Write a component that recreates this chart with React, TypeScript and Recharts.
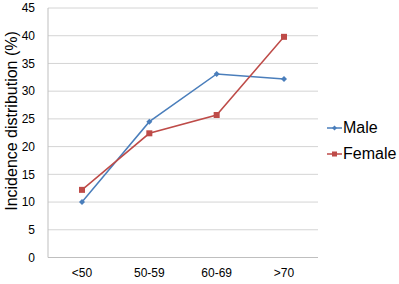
import React from 'react';
import { LineChart, Line, XAxis, YAxis, CartesianGrid } from 'recharts';

const categories = ['<50', '50-59', '60-69', '>70'];
const maleValues = [10, 24.5, 33.1, 32.2];
const femaleValues = [12.2, 22.4, 25.7, 39.8];
const yTicks = [0, 5, 10, 15, 20, 25, 30, 35, 40, 45];

const data = categories.map((c, i) => ({ cat: c, Male: maleValues[i], Female: femaleValues[i] }));

const MALE = '#4a7ebb';
const FEMALE = '#be4b48';
const FONT = 'Arial, "Liberation Sans", sans-serif';

const Diamond = (props: any) => {
  const { cx, cy, fill } = props;
  if (cx == null || cy == null) return null;
  return <path d={`M${cx},${cy - 3} L${cx + 3},${cy} L${cx},${cy + 3} L${cx - 3},${cy} Z`} fill={fill} />;
};
const Square = (props: any) => {
  const { cx, cy, fill } = props;
  if (cx == null || cy == null) return null;
  return <rect x={cx - 3} y={cy - 3} width={6} height={6} fill={fill} />;
};

const legendItems = [
  { name: 'Male', color: MALE, marker: 'diamond' },
  { name: 'Female', color: FEMALE, marker: 'square' },
];

const LegendBox = () => (
  <div style={{ position: 'absolute', left: 327, top: 115, fontFamily: FONT, fontSize: 16, color: '#000', lineHeight: '26px' }}>
    {legendItems.map((it) => (
      <div key={it.name} style={{ display: 'flex', alignItems: 'center', height: 26 }}>
        <svg width={15} height={10} style={{ marginRight: 1 }}>
          <line x1={0} y1={5} x2={15} y2={5} stroke={it.color} strokeWidth={1.5} />
          {it.marker === 'diamond' ? (
            <path d="M7.5,2.5 L10,5 L7.5,7.5 L5,5 Z" fill={it.color} />
          ) : (
            <rect x={5} y={2.5} width={5} height={5} fill={it.color} />
          )}
        </svg>
        <span>{it.name}</span>
      </div>
    ))}
  </div>
);

export default function App() {
  return (
    <div style={{ position: 'absolute', left: 0, top: 0, width: 399, height: 284, background: '#fff' }}>
      <LineChart width={399} height={284} data={data} margin={{ top: 8, right: 81, left: 0, bottom: 0 }}>
        <CartesianGrid horizontal vertical={false} stroke="#d4d4d4" strokeWidth={1} />
        <XAxis
          dataKey="cat"
          height={26.5}
          padding={{ left: 34, right: 34 }}
          tickLine={false}
          tickSize={0}
          tickMargin={11}
          axisLine={{ stroke: '#bfbfbf' }}
          tick={{ fill: '#000', fontSize: 12, fontFamily: FONT }}
          interval={0}
        />
        <YAxis
          width={48}
          domain={[0, 45]}
          ticks={yTicks}
          interval={0}
          tickLine={false}
          tickSize={0}
          tickMargin={13}
          axisLine={{ stroke: '#bfbfbf' }}
          tick={{ fill: '#000', fontSize: 12, fontFamily: FONT }}
        />
        <Line
          type="linear"
          dataKey="Male"
          stroke={MALE}
          strokeWidth={1.5}
          dot={<Diamond fill={MALE} />}
          activeDot={false}
          isAnimationActive={false}
        />
        <Line
          type="linear"
          dataKey="Female"
          stroke={FEMALE}
          strokeWidth={1.5}
          dot={<Square fill={FEMALE} />}
          activeDot={false}
          isAnimationActive={false}
        />
      </LineChart>
      <svg width={24} height={284} style={{ position: 'absolute', left: 0, top: 0 }}>
        <text
          x={11}
          y={121}
          transform="rotate(-90, 11, 121)"
          textAnchor="middle"
          dominantBaseline="central"
          fontFamily={FONT}
          fontSize={16}
          fill="#000"
        >
          Incidence distribution (%)
        </text>
      </svg>
      <LegendBox />
    </div>
  );
}
